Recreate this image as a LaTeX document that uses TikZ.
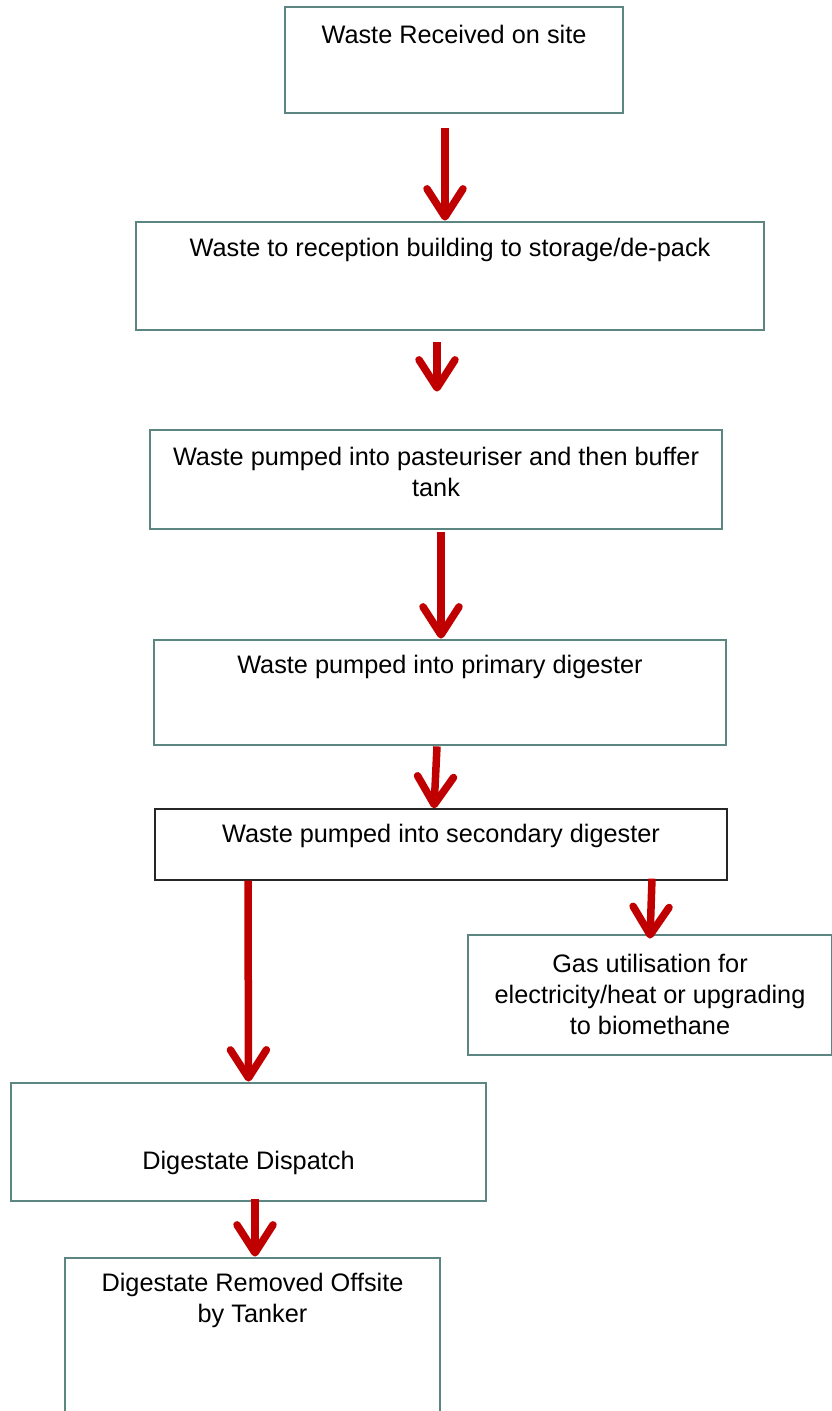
\documentclass[tikz,border=0pt]{standalone}
\usepackage{fontspec}
\setmainfont{Liberation Sans}
\usetikzlibrary{arrows.meta}
\definecolor{boxline}{HTML}{5B8682}
\definecolor{arrred}{HTML}{C00000}
\tikzset{
  box/.style={draw=boxline, line width=2.8pt, rectangle, inner sep=0pt},
  blackbox/.style={draw=black!85, line width=1.3pt, rectangle, inner sep=0pt},
  txt/.style={font=\fontsize{25.3}{31}\selectfont, align=center, inner sep=0pt},
  arr/.style={draw=arrred, line width=7.5pt, -{Straight Barb[length=28pt,width=36pt,line cap=round,line join=round]}}
}
\begin{document}
\begin{tikzpicture}[x=1pt,y=-1pt]
\useasboundingbox (0,0) rectangle (832,1411);
% boxes
\node[box, minimum width=338pt, minimum height=106pt] (b1) at (454,60) {};
\node[box, minimum width=628pt, minimum height=108pt] (b2) at (450,276) {};
\node[box, minimum width=572pt, minimum height=99pt] (b3) at (436,479.5) {};
\node[box, minimum width=572pt, minimum height=105pt] (b4) at (440,692.5) {};
\node[blackbox, minimum width=572pt, minimum height=71pt] (b5) at (441,844.5) {};
\node[box, minimum width=364pt, minimum height=120pt] (b6) at (650,995) {};
\node[box, minimum width=475pt, minimum height=118pt] (b7) at (248.5,1142) {};
\node[box, minimum width=375pt, minimum height=200pt] (b8) at (252.5,1358) {};
% texts
\node[txt] (t1) at (454,34) {Waste Received on site};
\node[txt] (t2) at (450,250) {Waste to reception building to storage/de-pack};
\node[txt] (t3) at (436,471.5) {Waste pumped into pasteuriser and then buffer\\tank};
\node[txt] (t4) at (440,667) {Waste pumped into primary digester};
\node[txt] (t5) at (441,836) {Waste pumped into secondary digester};
\node[txt] (t6) at (650,994) {Gas utilisation for\\electricity/heat or upgrading\\to biomethane};
\node[txt] (t7) at (248.5,1163) {Digestate Dispatch};
\node[txt] (t8) at (252.5,1300.5) {Digestate Removed Offsite\\by Tanker};
% arrows
\draw[arr] ([xshift=-9pt,yshift=-14pt]b1.south) -- ([xshift=-5pt]b2.north);
\draw[arr] ([xshift=-13pt,yshift=-11pt]b2.south) -- ([xshift=1pt,yshift=37pt]b3.north);
\draw[arr] ([xshift=5pt,yshift=-2pt]b3.south) -- ([xshift=1pt]b4.north);
\draw[arr] ([xshift=-3pt]b4.south) -- ([xshift=-7pt]b5.north);
\draw[arr] ([xshift=-193pt]b5.south) -- (b7.north);
\draw[arr] ([xshift=211pt,yshift=2pt]b5.south) -- ([yshift=-5pt]b6.north);
\draw[arr] ([xshift=6.5pt,yshift=3pt]b7.south) -- ([xshift=2.5pt]b8.north);
\end{tikzpicture}
\end{document}
